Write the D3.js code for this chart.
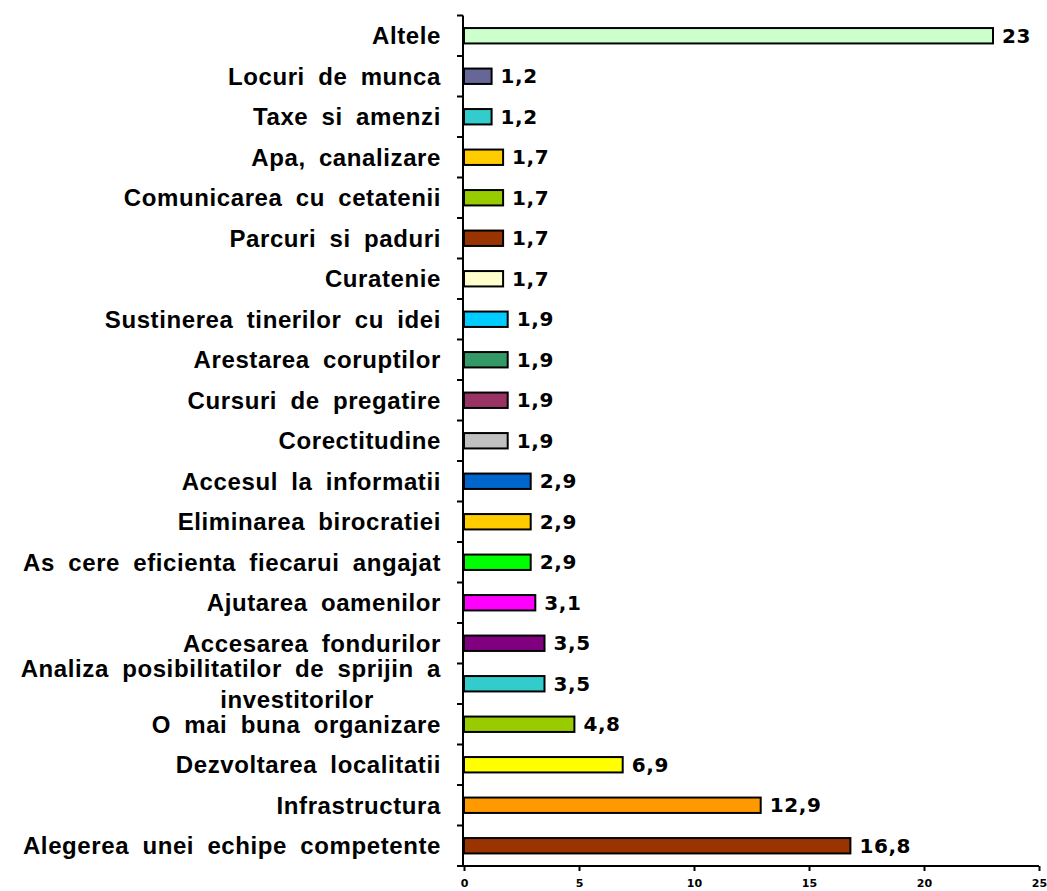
<!DOCTYPE html>
<html>
<head>
<meta charset="utf-8">
<script src="https://cdn.jsdelivr.net/npm/d3@7"></script>
<style>
  body { margin: 0; background: #fff; }
  .cat { font-family: "Liberation Sans", Arial, sans-serif; font-weight: bold; font-size: 24px; letter-spacing: 0.6px; word-spacing: 6px; }
  .val { font-family: "DejaVu Sans", Verdana, sans-serif; font-weight: bold; font-size: 20px; letter-spacing: 0.6px; }
  .xtick { font-family: "DejaVu Sans", Verdana, sans-serif; font-weight: bold; font-size: 11px; }
</style>
</head>
<body>
<div id="chart"></div>
<script>
// categories top to bottom
var categories = [
  "Altele", "Locuri de munca", "Taxe si amenzi", "Apa, canalizare",
  "Comunicarea cu cetatenii", "Parcuri si paduri", "Curatenie",
  "Sustinerea tinerilor cu idei", "Arestarea coruptilor", "Cursuri de pregatire",
  "Corectitudine", "Accesul la informatii", "Eliminarea birocratiei",
  "As cere eficienta fiecarui angajat", "Ajutarea oamenilor", "Accesarea fondurilor",
  "Analiza posibilitatilor de sprijin a|investitorilor", "O mai buna organizare",
  "Dezvoltarea localitatii", "Infrastructura", "Alegerea unei echipe competente"
];
var values = [23, 1.2, 1.2, 1.7, 1.7, 1.7, 1.7, 1.9, 1.9, 1.9, 1.9, 2.9, 2.9, 2.9, 3.1, 3.5, 3.5, 4.8, 6.9, 12.9, 16.8];
var valueLabels = ["23", "1,2", "1,2", "1,7", "1,7", "1,7", "1,7", "1,9", "1,9", "1,9", "1,9", "2,9", "2,9", "2,9", "3,1", "3,5", "3,5", "4,8", "6,9", "12,9", "16,8"];
var colors = ["#ccffcc", "#666699", "#33cccc", "#ffcc00", "#99cc00", "#993300", "#ffffcc",
  "#00ccff", "#339966", "#993366", "#c0c0c0", "#0066cc", "#ffcc00", "#00ff00",
  "#ff00ff", "#800080", "#33cccc", "#99cc00", "#ffff00", "#ff9900", "#993300"];
var xTicks = [0, 5, 10, 15, 20, 25];

var margin = { top: 15.5, right: 8, bottom: 25, left: 464 },
    width = 1039 - margin.left,
    height = 866 - margin.top;

var data = categories.map(function(c, i) {
  return { cat: c, num: values[i], label: valueLabels[i], color: colors[i] };
});

var x = d3.scaleLinear().domain([0, 25]).range([0, width]);
var y = d3.scaleBand().domain(categories).range([0, height]).paddingInner(0.62).paddingOuter(0.31);

var svg = d3.select("#chart").append("svg")
    .attr("width", 1047)
    .attr("height", 891)
    .append("g")
    .attr("transform", "translate(" + margin.left + "," + margin.top + ")");

svg.selectAll(".bar")
    .data(data)
    .enter().append("rect")
    .attr("class", "bar")
    .attr("x", x(0))
    .attr("y", function(d) { return y(d.cat); })
    .attr("width", function(d) { return x(d.num) - x(0); })
    .attr("height", y.bandwidth())
    .attr("fill", function(d) { return d.color; })
    .attr("stroke", "#000")
    .attr("stroke-width", 2);

svg.selectAll(".val")
    .data(data)
    .enter().append("text")
    .attr("class", "val")
    .attr("x", function(d) { return x(d.num) + 9; })
    .attr("y", function(d) { return y(d.cat) + y.bandwidth() / 2; })
    .attr("dy", "0.36em")
    .text(function(d) { return d.label; });

// y axis with ticks between categories
var yAxisG = svg.append("g");
yAxisG.append("line")
    .attr("x1", -1).attr("x2", -1)
    .attr("y1", 0).attr("y2", height)
    .attr("stroke", "#000").attr("stroke-width", 2);
yAxisG.selectAll(".ytick")
    .data(d3.range(categories.length + 1))
    .enter().append("line")
    .attr("x1", -7).attr("x2", -1)
    .attr("y1", function(i) { return i * height / categories.length; })
    .attr("y2", function(i) { return i * height / categories.length; })
    .attr("stroke", "#000").attr("stroke-width", 2);

// category labels
svg.selectAll(".cat")
    .data(data)
    .enter().append("text")
    .attr("class", "cat")
    .attr("text-anchor", "end")
    .attr("y", function(d) { return y(d.cat) + y.bandwidth() / 2; })
    .each(function(d) {
      var lines = d.cat.split("|");
      var t = d3.select(this);
      lines.forEach(function(l, k) {
        var off = (k - (lines.length - 1) / 2) * 31;
        t.append("tspan")
          .attr("x", k > 0 ? -90 : -23)
          .attr("dy", k === 0 ? (off + 8.5) + "px" : "31px")
          .text(l);
      });
    });

// x axis
var xAxis = svg.append("g")
    .attr("transform", "translate(0," + height + ")")
    .call(d3.axisBottom(x).tickValues(xTicks).tickSize(5).tickPadding(8));
xAxis.select(".domain").attr("stroke-width", 2).attr("d", "M-2,0H" + width);
xAxis.selectAll(".tick line").attr("stroke-width", 2);
xAxis.selectAll(".tick text").attr("class", "xtick").attr("font-family", null).attr("font-size", null);
</script>
</body>
</html>
